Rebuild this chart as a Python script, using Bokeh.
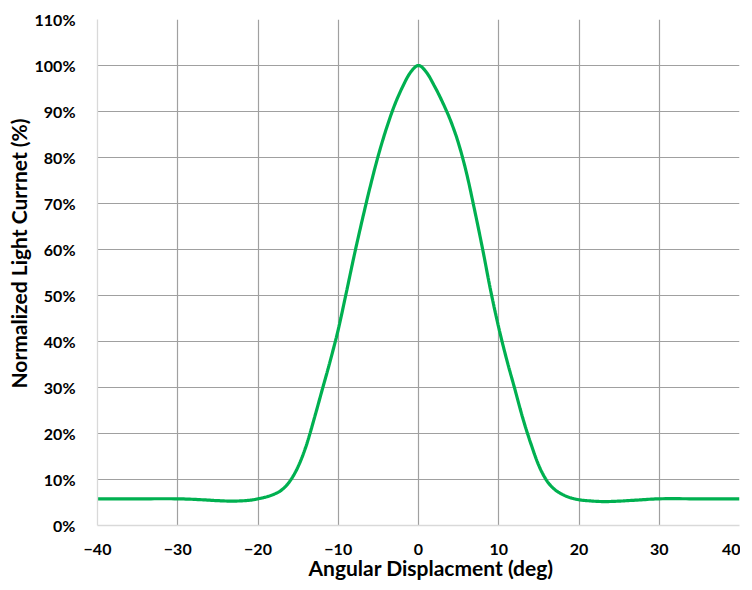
import numpy as np
from bokeh.plotting import figure
from bokeh.models import Range1d, FixedTicker, NumeralTickFormatter, Title
from bokeh.embed import file_html
from bokeh.resources import INLINE

# Data
angle_deg = [-40, -35, -30, -27, -25, -23, -21, -20, -19, -18, -17, -16, -15, -14,
             -13, -12, -11, -10, -9, -8, -7, -6, -5, -4, -3, -2, -1, 0,
             1, 2, 3, 4, 5, 6, 7, 8, 9, 10, 11, 12, 13, 14, 15, 16, 17, 18,
             19, 20, 21, 23, 25, 27, 30, 35, 40]
light_pct = [5.8, 5.8, 5.8, 5.6, 5.4, 5.3, 5.5, 5.8, 6.2, 6.8, 7.8, 9.7, 12.8, 17.3,
             23.2, 29.5, 35.8, 42.6, 50.6, 58.8, 66.5, 73.8, 80.5, 86.3, 91.3, 95.3, 98.5, 100.0,
             98.5, 95.5, 92.0, 88.0, 83.0, 76.5, 68.5, 60.0, 51.0, 43.0, 36.0, 29.7, 23.3, 17.8,
             13.0, 9.7, 7.8, 6.7, 6.0, 5.6, 5.4, 5.2, 5.3, 5.5, 5.8, 5.8, 5.8]

x_ticks = [-40, -30, -20, -10, 0, 10, 20, 30, 40]
y_ticks = [0.0, 0.1, 0.2, 0.3, 0.4, 0.5, 0.6, 0.7, 0.8, 0.9, 1.0, 1.1]

x_title = "Angular Displacment (deg)"
y_title = "Normalized Light Currnet  (%)"

FONT = "Lato"


def smooth(xs, ys, n=12):
    """Cardinal (Catmull-Rom) spline through the points, like a smoothed line."""
    xs = np.asarray(xs, float)
    ys = np.asarray(ys, float)
    m = np.zeros_like(ys)
    m[1:-1] = (ys[2:] - ys[:-2]) / (xs[2:] - xs[:-2])
    m[0] = (ys[1] - ys[0]) / (xs[1] - xs[0])
    m[-1] = (ys[-1] - ys[-2]) / (xs[-1] - xs[-2])
    out_x, out_y = [], []
    for i in range(len(xs) - 1):
        h = xs[i + 1] - xs[i]
        t = np.linspace(0, 1, n, endpoint=False)
        h00 = 2 * t**3 - 3 * t**2 + 1
        h10 = t**3 - 2 * t**2 + t
        h01 = -2 * t**3 + 3 * t**2
        h11 = t**3 - t**2
        out_x.extend(xs[i] + t * h)
        out_y.extend(h00 * ys[i] + h10 * h * m[i] + h01 * ys[i + 1] + h11 * h * m[i + 1])
    out_x.append(xs[-1])
    out_y.append(ys[-1])
    return out_x, out_y


p = figure(width=740, height=582, output_backend="svg", toolbar_location=None,
           x_range=Range1d(-40, 40), y_range=Range1d(0, 1.1),
           min_border_left=97, min_border_right=1, min_border_top=19,
           min_border_bottom=57)
p.outline_line_color = None
p.background_fill_color = "white"
p.border_fill_color = "white"

sx, sy = smooth(angle_deg, [v / 100.0 for v in light_pct])
p.line(sx, sy, line_color="#00B050", line_width=3.2)

# axes
p.xaxis.ticker = FixedTicker(ticks=x_ticks)
p.yaxis.ticker = FixedTicker(ticks=y_ticks)
p.yaxis.formatter = NumeralTickFormatter(format="0%")
for ax in (p.xaxis[0], p.yaxis[0]):
    ax.axis_line_color = "#D9D9D9"
    ax.axis_line_width = 1.3
    ax.major_tick_line_color = None
    ax.minor_tick_line_color = None
    ax.major_label_text_font = FONT
    ax.major_label_text_font_style = "bold"
    ax.major_label_text_font_size = "16px"
    ax.major_label_text_color = "#000000"
p.xaxis.major_label_standoff = 12
p.yaxis.major_label_standoff = 16

# grid
p.xgrid.ticker = FixedTicker(ticks=x_ticks[1:])
p.ygrid.ticker = FixedTicker(ticks=y_ticks[1:])
p.xgrid.grid_line_color = "#A0A0A0"
p.ygrid.grid_line_color = "#A0A0A0"
p.xgrid.grid_line_width = 1.2
p.ygrid.grid_line_width = 1.2

# axis titles
p.add_layout(Title(text=x_title, align="left", offset=211, standoff=-10,
                   text_font=FONT, text_font_style="bold", text_font_size="21px",
                   text_color="#000000"), "below")
p.add_layout(Title(text=y_title, align="left", offset=137, standoff=2,
                   text_font=FONT, text_font_style="bold", text_font_size="21px",
                   text_color="#000000"), "left")

open("out.html", "w").write(file_html(p, INLINE))
